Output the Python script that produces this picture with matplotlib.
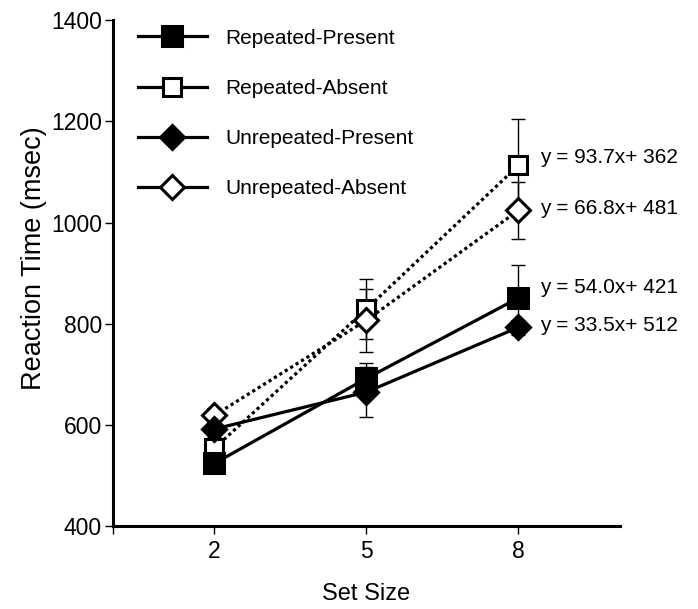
import matplotlib.pyplot as plt

plt.rcParams['font.family'] = ['Liberation Sans', 'DejaVu Sans']

set_size = [2, 5, 8]
conditions = ["Repeated-Present", "Repeated-Absent", "Unrepeated-Present", "Unrepeated-Absent"]
rt_rep_present = [524, 692, 851]
rt_rep_absent = [554, 829, 1113]
rt_unrep_present = [592, 665, 793]
rt_unrep_absent = [619, 807, 1024]
err_rep_present = [15, 30, 65]
err_rep_absent = [15, 60, 92]
err_unrep_present = [15, 50, 15]
err_unrep_absent = [15, 62, 57]
equations = ["y = 54.0x+ 421", "y = 93.7x+ 362", "y = 33.5x+ 512", "y = 66.8x+ 481"]

series = [rt_rep_present, rt_rep_absent, rt_unrep_present, rt_unrep_absent]
errors = [err_rep_present, err_rep_absent, err_unrep_present, err_unrep_absent]
markers = ['s', 's', 'D', 'D']
fills = ['black', 'white', 'black', 'white']
styles = ['-', (0, (1, 1)), '-', (0, (1, 1))]
msizes = [14, 13, 12, 12]
label_dy = [20, 15, 3, 3]

fig = plt.figure(figsize=(6.98, 6.09), dpi=100)
ax = fig.add_axes([0.162, 0.136, 0.726, 0.831])

for i in range(4):
    ax.errorbar(set_size, series[i], yerr=errors[i], fmt='none', ecolor='black',
                elinewidth=1, capsize=5, capthick=1, zorder=1)
# dotted lines first so solid lines and markers sit on top
order = [1, 3, 0, 2]
for i in order:
    ax.plot(set_size, series[i], linestyle=styles[i], color='black', linewidth=2.3,
            zorder=2)
for i in order:
    ax.plot(set_size, series[i], linestyle='none', marker=markers[i], markersize=msizes[i],
            markerfacecolor=fills[i], markeredgecolor='black', markeredgewidth=2.2, zorder=3)

handles = []
for i in range(4):
    h, = ax.plot([], [], linestyle='-', color='black', linewidth=2.3, marker=markers[i],
                 markersize=msizes[i], markerfacecolor=fills[i],
                 markeredgecolor='black', markeredgewidth=2.2)
    handles.append(h)
ax.legend(handles, conditions, loc='upper left', bbox_to_anchor=(0.012, 1.02), frameon=False,
          fontsize=15, handlelength=3.3, labelspacing=1.5, handletextpad=0.9)

for i in range(4):
    ax.text(8.42, series[i][2] + label_dy[i], equations[i], fontsize=15, va='center', ha='left')

ax.set_xlim(0, 10)
ax.set_ylim(400, 1400)
ax.set_xticks([0, 2, 5, 8])
ax.set_xticklabels(['', '2', '5', '8'])
ax.set_yticks(range(400, 1401, 200))
ax.tick_params(axis='both', labelsize=16.5, width=1, length=6, color='black', pad=2)
ax.tick_params(axis='x', pad=4)
for s in ['top', 'right']:
    ax.spines[s].set_visible(False)
for s in ['left', 'bottom']:
    ax.spines[s].set_linewidth(2.2)
ax.set_xlabel('Set Size', fontsize=17, labelpad=14)
ax.set_ylabel('Reaction Time (msec)', fontsize=19.5)
ax.yaxis.set_label_coords(-0.13, 0.53)

fig.savefig('out.png', dpi=100)
